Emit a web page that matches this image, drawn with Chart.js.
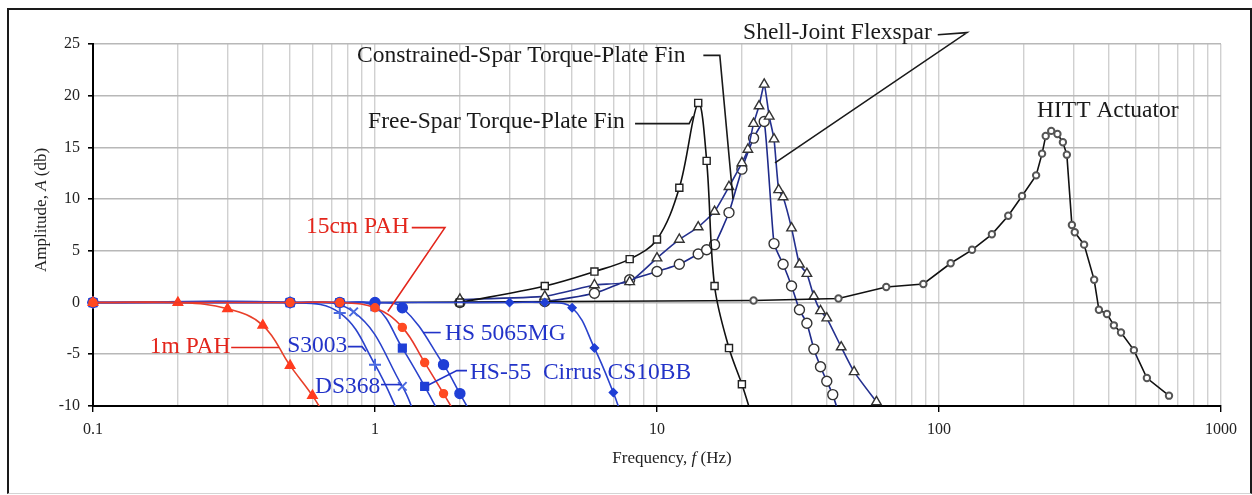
<!DOCTYPE html>
<html>
<head>
<meta charset="utf-8">
<title>Frequency response</title>
<script src="https://cdn.jsdelivr.net/npm/chart.js@4.4.1/dist/chart.umd.min.js"></script>
<style>
    html, body { margin: 0; padding: 0; background: #fff; }
    #frame {
        position: absolute; left: 7px; top: 8px; width: 1241px; height: 483px;
        border: 2px solid #1a1a1a; border-bottom: 1px solid #d4d4d4;
    }
    #chart { position: absolute; left: 0; top: 0; }
</style>
</head>
<body>
<div id="frame"></div>
<canvas id="chart" width="1252" height="495"></canvas>
<script>
// --- values: frequency (Hz) / amplitude (dB) ---
const freeSparFreq = [2, 4, 6, 8, 10, 12, 14, 15, 16, 18, 20, 22];
const freeSparAmp  = [0, 1.6, 3.0, 4.2, 6.1, 11.1, 19.3, 13.7, 1.6, -4.4, -7.9, -11.5];

const constrainedFreq = [2, 4, 6, 8, 10, 12, 14, 15, 16, 18, 20, 22, 24, 26, 28, 30, 32, 34, 36, 38, 40, 42, 45];
const constrainedAmp  = [0, 0.1, 0.9, 2.2, 3.0, 3.7, 4.7, 5.1, 5.6, 8.7, 12.9, 15.9, 17.5, 5.7, 3.7, 1.6, -0.7, -2.0, -4.5, -6.2, -7.6, -8.9, -11.5];

const shellFreq = [2, 4, 6, 8, 10, 12, 14, 16, 18, 20, 21, 22, 23, 24, 25, 26, 27, 28, 30, 32, 34, 36, 38, 40, 45, 50, 60];
const shellAmp  = [0.3, 0.6, 1.7, 2.0, 4.3, 6.1, 7.3, 8.8, 11.2, 13.5, 14.8, 17.3, 19.0, 21.1, 18.0, 15.8, 10.9, 10.2, 7.2, 3.7, 2.8, 0.6, -0.8, -1.5, -4.3, -6.7, -9.6];

const hittFreq = [1, 22, 44, 65, 88, 110, 131, 154, 176, 197, 221, 232, 239, 250, 263, 275, 284, 296, 303, 327, 355, 369, 394, 417, 442, 491, 546, 654];
const hittAmp  = [0, 0.2, 0.4, 1.5, 1.8, 3.8, 5.1, 6.6, 8.4, 10.3, 12.3, 14.4, 16.1, 16.6, 16.3, 15.5, 14.3, 7.5, 6.8, 5.6, 2.2, -0.7, -1.1, -2.2, -2.9, -4.6, -7.3, -9.0];

const s3003Freq = [0.1, 0.5, 0.75, 1, 1.25];
const s3003Amp  = [0, 0, -1.0, -6.0, -11.5];

const ds368Freq = [0.1, 0.5, 0.84, 1.25, 1.4];
const ds368Amp  = [0, 0, -0.9, -8.1, -11.2];

const hs55Freq = [0.1, 0.5, 0.75, 1, 1.25, 1.5, 1.75];
const hs55Amp  = [0, 0, 0, -0.4, -4.4, -8.1, -11.5];

const hs5065Freq = [0.1, 0.5, 0.75, 1, 1.25, 1.75, 2, 2.25];
const hs5065Amp  = [0, 0, 0, 0, -0.5, -6.0, -8.8, -11.3];

const cirrusFreq = [0.1, 0.5, 1, 3, 4, 5, 6, 7, 7.5];
const cirrusAmp  = [0, 0, 0, 0, 0, -0.5, -4.4, -8.7, -11.0];

const pah15Freq = [0.1, 0.5, 0.75, 1, 1.25, 1.5, 1.75, 2];
const pah15Amp  = [0, 0, 0, -0.5, -2.4, -5.8, -8.8, -11.5];

const pah1mFreq = [0.1, 0.2, 0.3, 0.4, 0.5, 0.6, 0.7];
const pah1mAmp  = [0, 0, -0.6, -2.2, -6.1, -9.0, -12.0];

const xDecades = [0.1, 1, 10, 100, 1000];
const xTickLabels = ['0.1', '1', '10', '100', '1000'];
const yTicks = [-10, -5, 0, 5, 10, 15, 20, 25];

const INK = '#1a1a1a';
const RED = '#e3261c';
const BLUE = '#2233c8';
const SERIF = '"Liberation Serif", "Times New Roman", serif';

// text labels with leader lines, anchored in data units [Hz, dB]
const callouts = [
    { text: 'Constrained-Spar Torque-Plate Fin', at: [0.863, 23.9], color: INK, leader: [[14.6, 23.9], [16.7, 23.9], [18.6, 10.0]] },
    { text: 'Free-Spar Torque-Plate Fin', at: [0.945, 17.5], color: INK, leader: [[8.36, 17.3], [13.0, 17.3], [13.4, 18.0]] },
    { text: 'Shell-Joint Flexspar', at: [20.2, 26.1], color: INK, leader: [[99, 25.9], [125.7, 26.1], [26.2, 13.5]] },
    { text: 'HITT Actuator', at: [222.6, 18.5], color: INK },
    { text: '15cm PAH', at: [0.569, 7.35], color: RED, leader: [[1.35, 7.25], [1.77, 7.25], [1.11, -0.87]] },
    { text: '1m PAH', at: [0.159, -4.26], color: RED, leader: [[0.309, -4.35], [0.457, -4.35]] },
    { text: 'S3003', at: [0.488, -4.16], color: BLUE, leader: [[0.802, -4.26], [0.899, -4.26], [0.929, -4.74]] },
    { text: 'DS368', at: [0.613, -8.12], color: BLUE, leader: [[1.05, -7.93], [1.246, -7.93]] },
    { text: 'HS 5065MG', at: [1.77, -3.0], color: BLUE, leader: [[1.48, -2.9], [1.71, -2.9]] },
    { text: 'HS-55', at: [2.17, -6.77], color: BLUE, leader: [[2.12, -6.58], [1.95, -6.58], [1.54, -8.0]] },
    { text: 'Cirrus CS10BB', at: [3.94, -6.77], color: BLUE }
];

function pairs(fs, as) {
    return fs.map((f, i) => ({ x: f, y: as[i] }));
}

function series(label, fs, as, style) {
    return Object.assign({
        label,
        data: pairs(fs, as),
        showLine: true,
        borderWidth: 1.6,
        pointBorderWidth: 1.4,
        clip: { left: 12, top: 12, right: 12, bottom: 0 }
    }, style);
}

const datasets = [
    series('15cm PAH', pah15Freq, pah15Amp, { borderColor: '#e8382a', pointBackgroundColor: '#ff4a22', pointBorderColor: '#ff4a22', pointStyle: 'circle', pointRadius: 4, tension: 0.4 }),
    series('1m PAH', pah1mFreq, pah1mAmp, { borderColor: '#e8402a', pointBackgroundColor: '#ff3b1f', pointBorderColor: '#ff3b1f', pointStyle: 'triangle', pointRadius: 5.5, tension: 0.4 }),
    series('HS 5065MG', hs5065Freq, hs5065Amp, { borderColor: '#2a42cc', pointBackgroundColor: '#1f3fd6', pointBorderColor: '#1f3fd6', pointStyle: 'circle', pointRadius: 5, tension: 0.4 }),
    series('HS-55', hs55Freq, hs55Amp, { borderColor: '#2a42cc', pointBackgroundColor: '#1f3fd6', pointBorderColor: '#1f3fd6', pointStyle: 'rect', pointRadius: 5.5, tension: 0.4 }),
    series('DS368', ds368Freq, ds368Amp, { borderColor: '#2a42cc', pointBorderColor: '#4a6ae0', pointBorderWidth: 2, pointStyle: 'crossRot', pointRadius: 6, tension: 0.4 }),
    series('S3003', s3003Freq, s3003Amp, { borderColor: '#2a42cc', pointBorderColor: '#4a6ae0', pointBorderWidth: 2, pointStyle: 'cross', pointRadius: 6, tension: 0.4 }),
    series('Cirrus CS10BB', cirrusFreq, cirrusAmp, { borderColor: '#2a42cc', pointBackgroundColor: '#1f3fd6', pointBorderColor: '#1f3fd6', pointStyle: 'rectRot', pointRadius: 4, tension: 0.4 }),
    series('HITT Actuator', hittFreq, hittAmp, { borderColor: '#111', pointBackgroundColor: '#fff', pointBorderColor: '#555', pointBorderWidth: 2, pointStyle: 'circle', pointRadius: 3.2, tension: 0 }),
    series('Free-Spar Torque-Plate Fin', freeSparFreq, freeSparAmp, { borderColor: '#111', pointBackgroundColor: '#fff', pointBorderColor: '#222', pointStyle: 'rect', pointRadius: 5, tension: 0.35 }),
    series('Shell-Joint Flexspar', shellFreq, shellAmp, { borderColor: '#24308f', pointBackgroundColor: '#fff', pointBorderColor: '#333', pointStyle: 'triangle', pointRadius: 5.5, tension: 0.15 }),
    series('Constrained-Spar Torque-Plate Fin', constrainedFreq, constrainedAmp, { borderColor: '#1e2a8a', pointBackgroundColor: '#fff', pointBorderColor: '#333', pointStyle: 'circle', pointRadius: 5, tension: 0.15 })
];

// every minor decade line 1..9 x 10^n for the grid
const xGridValues = [];
xDecades.forEach((d, i) => {
    const last = i === xDecades.length - 1;
    for (let m = 1; m <= (last ? 1 : 9); m++) xGridValues.push(+(d * m).toPrecision(3));
});

function isDecade(v) {
    return xDecades.some(d => Math.abs(d - v) < 1e-9);
}

function drawRich(ctx, parts, cx, cy) {
    let total = 0;
    parts.forEach(p => { ctx.font = p.font; p.w = ctx.measureText(p.t).width; total += p.w; });
    let xx = cx - total / 2;
    parts.forEach(p => { ctx.font = p.font; ctx.fillText(p.t, xx, cy); xx += p.w; });
}

const calloutPlugin = {
    id: 'callouts',
    afterDraw(chart) {
        const { ctx, chartArea, scales: { x, y } } = chart;
        const px = p => [x.getPixelForValue(p[0]), y.getPixelForValue(p[1])];
        ctx.save();
        ctx.textBaseline = 'middle';
        ctx.textAlign = 'left';
        callouts.forEach(c => {
            if (c.leader) {
                ctx.beginPath();
                ctx.strokeStyle = c.color;
                ctx.lineWidth = 1.6;
                c.leader.forEach((p, i) => {
                    const [lx, ly] = px(p);
                    if (i) ctx.lineTo(lx, ly); else ctx.moveTo(lx, ly);
                });
                ctx.stroke();
            }
            ctx.font = '23.5px ' + SERIF;
            ctx.fillStyle = c.color;
            const [tx, ty] = px(c.at);
            ctx.fillText(c.text, tx, ty);
        });

        // axis titles (with the italic symbols)
        const reg = '17px ' + SERIF, ita = 'italic 17px ' + SERIF;
        ctx.fillStyle = '#222';
        drawRich(ctx, [{ t: 'Frequency, ', font: reg }, { t: 'f', font: ita }, { t: ' (Hz)', font: reg }],
            (chartArea.left + chartArea.right) / 2 + 15, chartArea.bottom + 53);
        ctx.translate(42, (chartArea.top + chartArea.bottom) / 2 - 15);
        ctx.rotate(-Math.PI / 2);
        drawRich(ctx, [{ t: 'Amplitude, ', font: reg }, { t: 'A', font: ita }, { t: ' (db)', font: reg }], 0, 0);
        ctx.restore();
    }
};

new Chart(document.getElementById('chart'), {
    type: 'scatter',
    data: { datasets },
    plugins: [calloutPlugin],
    options: {
        responsive: false,
        animation: false,
        layout: { padding: { top: 44, right: 31, left: 0, bottom: 0 } },
        plugins: { legend: { display: false }, tooltip: { enabled: false } },
        scales: {
            x: {
                type: 'logarithmic',
                min: 0.1,
                max: 1000,
                afterBuildTicks: s => { s.ticks = xGridValues.map(v => ({ value: v })); },
                afterFit: s => { s.height = 89; },
                ticks: {
                    autoSkip: false,
                    maxRotation: 0,
                    padding: 8,
                    color: '#222',
                    font: { family: SERIF, size: 16 },
                    callback: v => {
                        const i = xDecades.findIndex(d => Math.abs(d - v) < 1e-9);
                        return i >= 0 ? xTickLabels[i] : '';
                    }
                },
                grid: {
                    color: '#d0d0d0',
                    lineWidth: 1.4,
                    tickLength: 6,
                    tickColor: c => (c.tick && isDecade(c.tick.value)) ? '#000' : 'rgba(0,0,0,0)'
                },
                border: { color: '#000', width: 2 }
            },
            y: {
                min: -10,
                max: 25,
                afterBuildTicks: s => { s.ticks = yTicks.map(v => ({ value: v })); },
                afterFit: s => { s.width = 93; },
                ticks: { padding: 8, color: '#222', font: { family: SERIF, size: 16 } },
                grid: { color: '#b8b8b8', lineWidth: 1.6, tickLength: 5, tickColor: '#000' },
                border: { color: '#000', width: 2 }
            }
        }
    }
});
</script>
</body>
</html>
